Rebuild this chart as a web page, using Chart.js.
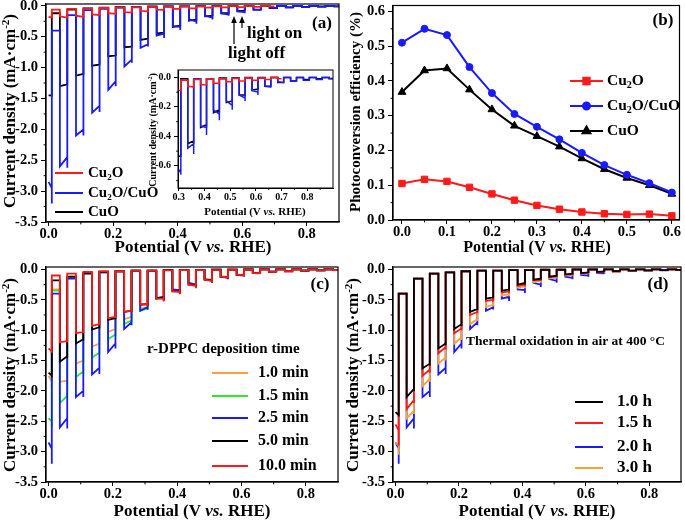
<!DOCTYPE html>
<html>
<head>
<meta charset="utf-8">
<title>Cu2O / CuO photocurrent</title>
<script src="https://cdn.jsdelivr.net/npm/chart.js@4.4.0/dist/chart.umd.min.js"></script>
<style>
  body { margin: 0; background: #fff; }
  #fig { position: relative; width: 685px; height: 522px; overflow: hidden; background: #fff; }
  #fig canvas { position: absolute; }
</style>
</head>
<body>
<div id="fig">
  <canvas id="chart-a" width="345" height="260" style="left:0;top:0"></canvas>
  <canvas id="chart-b" width="340" height="260" style="left:345px;top:0"></canvas>
  <canvas id="chart-c" width="345" height="260" style="left:0;top:262px"></canvas>
  <canvas id="chart-d" width="340" height="260" style="left:345px;top:262px"></canvas>
  <canvas id="chart-inset" width="200" height="165" style="left:140px;top:62px"></canvas>
</div>
<script>
/* ─── chopped-light schedule (V vs. RHE) ─────────────────────────── */
const lightOn  = [0.000, 0.035, 0.085, 0.135, 0.185, 0.235, 0.285, 0.335, 0.385, 0.435, 0.485,
                  0.535, 0.585, 0.635, 0.685, 0.735, 0.785, 0.835, 0.885, 0.935, 0.985];
const lightOff = [0.010, 0.058, 0.108, 0.158, 0.208, 0.258, 0.308, 0.358, 0.408, 0.458, 0.508,
                  0.558, 0.608, 0.658, 0.708, 0.758, 0.808, 0.858, 0.908, 0.958, 1.008];

/* per pulse: [light-on current, end of light, off transient, dark current after]  (mA cm-2) */
const jCu2OCuO = [
  [-2.85, -2.95, -3.20, -0.40], [-2.60, -2.45, -2.62, -0.15], [-2.10, -2.00, -2.10, -0.07],
  [-1.73, -1.62, -1.72, -0.05], [-1.36, -1.22, -1.30, -0.03], [-0.98, -0.87, -0.92, -0.02],
  [-0.68, -0.62, -0.66, -0.02], [-0.48, -0.45, -0.52, -0.01], [-0.33, -0.34, -0.39, -0.01],
  [-0.22, -0.25, -0.29, -0.01], [-0.16, -0.19, -0.22, -0.005], [-0.12, -0.14, -0.16, -0.005],
  [-0.09, -0.10, -0.12, -0.005], [-0.06, -0.065, -0.07, 0], [-0.03, -0.035, -0.04, 0],
  [-0.025, -0.025, -0.03, 0], [-0.02, -0.02, -0.02, 0], [-0.015, -0.015, -0.015, 0],
  [-0.01, -0.01, -0.01, 0], [-0.008, -0.008, -0.008, 0], [-0.005, -0.005, -0.005, 0]
];
const jCuO = [
  [-1.45, -1.45, -1.47, -0.12], [-1.30, -1.27, -1.29, -0.06], [-1.13, -1.10, -1.12, -0.04],
  [-0.97, -0.95, -0.96, -0.03], [-0.82, -0.80, -0.81, -0.02], [-0.67, -0.66, -0.67, -0.02],
  [-0.55, -0.53, -0.54, -0.01], [-0.45, -0.43, -0.45, -0.01], [-0.34, -0.32, -0.34, -0.01],
  [-0.24, -0.22, -0.24, -0.005], [-0.17, -0.16, -0.17, -0.005], [-0.12, -0.12, -0.12, 0],
  [-0.085, -0.08, -0.085, 0], [-0.06, -0.06, -0.06, 0], [-0.035, -0.035, -0.035, 0],
  [-0.025, -0.025, -0.025, 0], [-0.015, -0.015, -0.015, 0], [-0.01, -0.01, -0.01, 0],
  [-0.008, -0.008, -0.008, 0], [-0.005, -0.005, -0.005, 0], [-0.003, -0.003, -0.003, 0]
];
const jCu2O = [
  [-0.18, -0.19, -0.20, -0.06], [-0.17, -0.19, -0.19, -0.05], [-0.16, -0.18, -0.18, -0.04],
  [-0.14, -0.15, -0.16, -0.035], [-0.12, -0.13, -0.13, -0.03], [-0.10, -0.11, -0.11, -0.025],
  [-0.08, -0.09, -0.09, -0.02], [-0.06, -0.065, -0.07, -0.015], [-0.05, -0.05, -0.055, -0.01],
  [-0.04, -0.04, -0.045, -0.01], [-0.03, -0.03, -0.035, -0.008], [-0.025, -0.025, -0.03, -0.005],
  [-0.02, -0.02, -0.02, -0.005], [-0.015, -0.015, -0.015, 0], [-0.01, -0.01, -0.01, 0]
];
const cu2oScanEnd = 0.70;
const scanEnd = 1.05;

/* (c) r-DPPC deposition time; 2.5 min is the Cu2O/CuO scan above */
const jDep10 = [
  [-1.75, -1.85, -1.95, -0.33], [-1.85, -1.83, -1.87, -0.14], [-1.55, -1.50, -1.53, -0.07],
  [-1.27, -1.22, -1.25, -0.05], [-1.03, -0.98, -1.00, -0.03], [-0.82, -0.78, -0.80, -0.02],
  [-0.65, -0.62, -0.64, -0.02], [-0.48, -0.47, -0.50, -0.01], [-0.35, -0.35, -0.38, -0.01],
  [-0.23, -0.25, -0.28, -0.01], [-0.15, -0.17, -0.19, -0.005], [-0.11, -0.12, -0.14, -0.005],
  [-0.08, -0.085, -0.10, 0], [-0.055, -0.06, -0.065, 0], [-0.035, -0.04, -0.04, 0],
  [-0.025, -0.025, -0.03, 0], [-0.018, -0.018, -0.018, 0], [-0.012, -0.012, -0.012, 0],
  [-0.008, -0.008, -0.008, 0], [-0.006, -0.006, -0.006, 0], [-0.004, -0.004, -0.004, 0]
];
const jDep15 = [
  [-2.45, -2.50, -2.60, -0.35], [-2.20, -2.08, -2.12, -0.14], [-1.77, -1.68, -1.72, -0.07],
  [-1.45, -1.37, -1.40, -0.05], [-1.15, -1.07, -1.10, -0.03], [-0.90, -0.84, -0.87, -0.02],
  [-0.68, -0.64, -0.67, -0.02], [-0.49, -0.46, -0.51, -0.01], [-0.34, -0.34, -0.38, -0.01],
  [-0.22, -0.24, -0.28, -0.01], [-0.16, -0.18, -0.21, -0.005], [-0.12, -0.13, -0.15, -0.005],
  [-0.09, -0.095, -0.11, 0], [-0.06, -0.06, -0.07, 0], [-0.035, -0.035, -0.04, 0],
  [-0.025, -0.025, -0.03, 0], [-0.02, -0.02, -0.02, 0], [-0.015, -0.015, -0.015, 0],
  [-0.01, -0.01, -0.01, 0], [-0.007, -0.007, -0.007, 0], [-0.005, -0.005, -0.005, 0]
];
const jDep50 = [
  [-1.70, -1.75, -1.78, -0.18], [-1.52, -1.43, -1.46, -0.12], [-1.22, -1.15, -1.17, -0.06],
  [-0.99, -0.95, -0.97, -0.04], [-0.83, -0.80, -0.82, -0.03], [-0.70, -0.68, -0.70, -0.02],
  [-0.58, -0.57, -0.60, -0.02], [-0.47, -0.46, -0.50, -0.01], [-0.36, -0.36, -0.40, -0.01],
  [-0.25, -0.26, -0.30, -0.01], [-0.17, -0.18, -0.21, -0.005], [-0.12, -0.13, -0.15, -0.005],
  [-0.09, -0.09, -0.11, 0], [-0.06, -0.06, -0.07, 0], [-0.04, -0.04, -0.045, 0],
  [-0.03, -0.03, -0.03, 0], [-0.02, -0.02, -0.02, 0], [-0.015, -0.015, -0.015, 0],
  [-0.01, -0.01, -0.01, 0], [-0.007, -0.007, -0.007, 0], [-0.005, -0.005, -0.005, 0]
];
const jDep100 = [
  [-1.30, -1.35, -1.37, -0.10], [-1.20, -1.18, -1.20, -0.07], [-1.05, -1.03, -1.05, -0.04],
  [-0.93, -0.90, -0.92, -0.03], [-0.80, -0.78, -0.80, -0.03], [-0.70, -0.68, -0.70, -0.02],
  [-0.58, -0.57, -0.60, -0.02], [-0.48, -0.48, -0.53, -0.015], [-0.36, -0.37, -0.41, -0.01],
  [-0.25, -0.27, -0.31, -0.01], [-0.17, -0.19, -0.22, -0.01], [-0.12, -0.13, -0.15, -0.005],
  [-0.09, -0.09, -0.11, -0.005], [-0.06, -0.06, -0.07, 0], [-0.04, -0.04, -0.045, 0],
  [-0.03, -0.03, -0.03, 0], [-0.02, -0.02, -0.02, 0], [-0.015, -0.015, -0.015, 0],
  [-0.01, -0.01, -0.01, 0], [-0.008, -0.008, -0.008, 0], [-0.005, -0.005, -0.005, 0]
];

/* (d) thermal oxidation time; 2.0 h is the Cu2O/CuO scan above */
const jOx10 = [
  [-2.35, -2.40, -2.42, -0.40], [-2.10, -1.97, -2.00, -0.15], [-1.63, -1.55, -1.58, -0.07],
  [-1.30, -1.22, -1.25, -0.05], [-0.98, -0.90, -0.93, -0.03], [-0.70, -0.65, -0.67, -0.02],
  [-0.48, -0.46, -0.48, -0.02], [-0.35, -0.33, -0.35, -0.01], [-0.25, -0.22, -0.25, -0.01],
  [-0.17, -0.15, -0.17, -0.005], [-0.12, -0.10, -0.12, -0.005], [-0.08, -0.07, -0.08, 0],
  [-0.06, -0.05, -0.06, 0], [-0.04, -0.035, -0.04, 0], [-0.03, -0.025, -0.03, 0],
  [-0.02, -0.02, -0.02, 0], [-0.015, -0.015, -0.015, 0], [-0.01, -0.01, -0.01, 0],
  [-0.007, -0.007, -0.007, 0], [-0.005, -0.005, -0.005, 0], [-0.003, -0.003, -0.003, 0]
];
const jOx15 = [
  [-2.55, -2.65, -2.90, -0.40], [-2.30, -2.15, -2.20, -0.15], [-1.75, -1.65, -1.70, -0.07],
  [-1.38, -1.28, -1.32, -0.05], [-1.05, -0.97, -1.00, -0.03], [-0.75, -0.70, -0.72, -0.02],
  [-0.52, -0.50, -0.53, -0.02], [-0.38, -0.36, -0.39, -0.01], [-0.27, -0.25, -0.28, -0.01],
  [-0.18, -0.17, -0.19, -0.005], [-0.13, -0.12, -0.13, -0.005], [-0.09, -0.08, -0.09, 0],
  [-0.06, -0.055, -0.065, 0], [-0.045, -0.04, -0.045, 0], [-0.03, -0.03, -0.03, 0],
  [-0.02, -0.02, -0.02, 0], [-0.015, -0.015, -0.015, 0], [-0.01, -0.01, -0.01, 0],
  [-0.007, -0.007, -0.007, 0], [-0.005, -0.005, -0.005, 0], [-0.003, -0.003, -0.003, 0]
];
const jOx30 = [
  [-2.85, -2.90, -3.05, -0.40], [-2.45, -2.33, -2.38, -0.15], [-1.92, -1.80, -1.85, -0.07],
  [-1.55, -1.45, -1.50, -0.05], [-1.22, -1.12, -1.16, -0.03], [-0.90, -0.82, -0.85, -0.02],
  [-0.62, -0.58, -0.61, -0.02], [-0.43, -0.41, -0.44, -0.01], [-0.30, -0.28, -0.31, -0.01],
  [-0.21, -0.19, -0.22, -0.005], [-0.15, -0.13, -0.15, -0.005], [-0.10, -0.09, -0.10, 0],
  [-0.07, -0.065, -0.07, 0], [-0.05, -0.045, -0.05, 0], [-0.035, -0.035, -0.035, 0],
  [-0.025, -0.025, -0.025, 0], [-0.015, -0.015, -0.015, 0], [-0.01, -0.01, -0.01, 0],
  [-0.008, -0.008, -0.008, 0], [-0.005, -0.005, -0.005, 0], [-0.003, -0.003, -0.003, 0]
];

/* (b) photoconversion efficiency (%) */
const effPotential = [0.00, 0.05, 0.10, 0.15, 0.20, 0.25, 0.30, 0.35, 0.40, 0.45, 0.50, 0.55, 0.60];
const effCu2O      = [0.105, 0.117, 0.111, 0.094, 0.075, 0.057, 0.042, 0.031, 0.023, 0.018, 0.016, 0.017, 0.012];
const effCu2OCuO   = [0.510, 0.550, 0.532, 0.440, 0.365, 0.305, 0.268, 0.232, 0.193, 0.158, 0.130, 0.106, 0.079];
const effCuO       = [0.368, 0.430, 0.436, 0.375, 0.318, 0.271, 0.241, 0.211, 0.177, 0.146, 0.121, 0.100, 0.075];

/* tick labels */
const potTicks   = [0.0, 0.2, 0.4, 0.6, 0.8];
const potMinor   = [0.1, 0.3, 0.5, 0.7];
const jTicks     = [0.0, -0.5, -1.0, -1.5, -2.0, -2.5, -3.0, -3.5];
const jMinor     = [-0.25, -0.75, -1.25, -1.75, -2.25, -2.75, -3.25];
const effTicks   = [0.0, 0.1, 0.2, 0.3, 0.4, 0.5, 0.6];
const effMinor   = [0.05, 0.15, 0.25, 0.35, 0.45, 0.55];
const insetXTicks = [0.3, 0.4, 0.5, 0.6, 0.7, 0.8];
const insetXMinor = [0.35, 0.45, 0.55, 0.65, 0.75, 0.85];
const insetYTicks = [0.0, -0.2, -0.4, -0.6];
const insetYMinor = [-0.1, -0.3, -0.5, -0.7];

const RED = '#ff1a1a', BLUE = '#1a1aff', BLACK = '#000000', ORANGE = '#f7a23a', GREEN = '#2ee82e';
const FONT = '"Liberation Serif", "Times New Roman", serif';
Chart.defaults.font.family = FONT;
Chart.defaults.color = '#000';

/* ─── helpers ────────────────────────────────────────────────────── */
function chopped(pulses, end) {
  const pts = [];
  let dark = null;
  pulses.forEach((p, i) => {
    const on = lightOn[i], off = lightOff[i];
    if (on >= end) return;
    if (dark !== null) pts.push({ x: on, y: dark });
    pts.push({ x: on, y: p[0] });
    if (off >= end) { pts.push({ x: end, y: p[1] }); dark = null; return; }
    pts.push({ x: off, y: p[1] }, { x: off, y: p[2] }, { x: off, y: p[3] });
    dark = p[3];
  });
  if (dark !== null) pts.push({ x: end, y: dark });
  return pts;
}

// text with italic / subscript / superscript runs
function rich(ctx, x, y, parts, size, align) {
  const fontOf = s => (s === 'i' ? 'italic bold ' : 'bold ') +
    (s === 'sub' || s === 'sup' ? Math.round(size * 0.62) : size) + 'px ' + FONT;
  let w = 0;
  parts.forEach(([t, s]) => { ctx.font = fontOf(s); w += ctx.measureText(t).width; });
  let cx = align === 'center' ? x - w / 2 : align === 'right' ? x - w : x;
  ctx.textAlign = 'left';
  ctx.textBaseline = 'middle';
  ctx.fillStyle = '#000';
  parts.forEach(([t, s]) => {
    ctx.font = fontOf(s);
    const dy = s === 'sub' ? size * 0.3 : s === 'sup' ? -size * 0.3 : 0;
    ctx.fillText(t, cx, y + dy);
    cx += ctx.measureText(t).width;
  });
}
function richUp(ctx, x, y, parts, size) {
  ctx.save();
  ctx.translate(x, y);
  ctx.rotate(-Math.PI / 2);
  rich(ctx, 0, 0, parts, size, 'center');
  ctx.restore();
}
function sample(ctx, x1, x2, y, color, lw) {
  ctx.strokeStyle = color;
  ctx.lineWidth = lw;
  ctx.beginPath(); ctx.moveTo(x1, y); ctx.lineTo(x2, y); ctx.stroke();
}
function arrowUp(ctx, x, y1, y2) {
  ctx.strokeStyle = '#000'; ctx.lineWidth = 1.2;
  ctx.beginPath(); ctx.moveTo(x, y1); ctx.lineTo(x, y2 + 5); ctx.stroke();
  ctx.fillStyle = '#000';
  ctx.beginPath(); ctx.moveTo(x, y2); ctx.lineTo(x - 2.8, y2 + 7); ctx.lineTo(x + 2.8, y2 + 7); ctx.closePath(); ctx.fill();
}

const CU2O     = [['Cu'], ['2', 'sub'], ['O']];
const CU2O_CUO = [['Cu'], ['2', 'sub'], ['O/CuO']];
const POT      = [['Potential (V '], ['vs.', 'i'], [' RHE)']];
const JTITLE   = [['Current density (mA\u00B7cm'], ['-2', 'sup'], [')']];

function axes(o) {
  const tickFont = { family: FONT, size: o.tickSize, weight: 'bold' };
  return {
    x: {
      type: 'linear', min: o.xMin, max: o.xMax,
      afterBuildTicks: s => { s.ticks = o.xTicks.map(v => ({ value: v })); },
      afterFit: s => { s.height = o.xH; s.paddingLeft = 0; s.paddingRight = 0; },
      ticks: { autoSkip: false, maxRotation: 0, color: '#000', font: tickFont, padding: 0,
               callback: v => v.toFixed(1) },
      grid: { drawOnChartArea: false, tickLength: o.tl, color: '#000', lineWidth: 1 },
      border: { color: '#000', width: o.lw }
    },
    y: {
      type: 'linear', min: o.yMin, max: o.yMax,
      afterBuildTicks: s => { s.ticks = o.yTicks.map(v => ({ value: v })); },
      afterFit: s => { s.width = o.yW; s.paddingTop = 0; s.paddingBottom = 0; },
      ticks: { autoSkip: false, color: '#000', font: tickFont, padding: 3,
               callback: v => v.toFixed(1) },
      grid: { drawOnChartArea: false, tickLength: o.tl + 1, color: '#000', lineWidth: 1 },
      border: { color: '#000', width: o.lw }
    }
  };
}

function frame(o) {
  return {
    id: 'frame',
    afterDraw(chart) {
      const { ctx, chartArea: a, scales: { x, y } } = chart;
      ctx.save();
      ctx.strokeStyle = '#000';
      ctx.lineWidth = o.lw;
      ctx.strokeRect(a.left, a.top, a.right - a.left, a.bottom - a.top);
      ctx.lineWidth = 1;
      ctx.beginPath();
      o.xMinor.forEach(v => { const p = x.getPixelForValue(v); ctx.moveTo(p, a.bottom); ctx.lineTo(p, a.bottom + o.tl * 0.6); });
      o.yMinor.forEach(v => { const p = y.getPixelForValue(v); ctx.moveTo(a.left, p); ctx.lineTo(a.left - o.tl * 0.6, p); });
      ctx.stroke();
      o.decor(ctx, chart);
      ctx.restore();
    }
  };
}

function makeChart(id, datasets, o) {
  return new Chart(document.getElementById(id), {
    type: 'line',
    data: { datasets },
    options: {
      responsive: false,
      animation: false,
      devicePixelRatio: 1,
      layout: { padding: { left: 0, top: o.top, right: o.right, bottom: 0 } },
      elements: { line: { tension: 0 } },
      plugins: { legend: { display: false }, tooltip: { enabled: false } },
      scales: axes(o)
    },
    plugins: [frame(o)]
  });
}

const scan = (pulses, color, end = scanEnd, lw = 1.8) => ({
  data: chopped(pulses, end), borderColor: color, borderWidth: lw, pointRadius: 0
});

const chopAxes = {
  xMin: -0.008, xMax: 0.9, yMin: -3.5, yMax: 0.04,
  xTicks: potTicks, xMinor: potMinor, yTicks: jTicks, yMinor: jMinor,
  tickSize: 14.5, tl: 4, lw: 1.2
};

/* ─── (a) ───────────────────────────────────────────────────────── */
makeChart('chart-a', [
  scan(jCu2O, RED, cu2oScanEnd),
  scan(jCu2OCuO, BLUE),
  scan(jCuO, BLACK)
], Object.assign({}, chopAxes, {
  yMax: 0.03, xH: 38, yW: 46, top: 4, right: 6,
  decor(ctx) {
    rich(ctx, 322, 24, [['(a)']], 17, 'center');
    rich(ctx, 247, 34, [['light on']], 17, 'left');
    rich(ctx, 228, 54, [['light off']], 17, 'left');
    arrowUp(ctx, 234, 44, 16);
    arrowUp(ctx, 242, 28, 16);
    sample(ctx, 55, 83, 173, RED, 2);
    sample(ctx, 55, 83, 193, BLUE, 2);
    sample(ctx, 55, 83, 212, BLACK, 2);
    rich(ctx, 88, 173, CU2O, 15, 'left');
    rich(ctx, 88, 193, CU2O_CUO, 15, 'left');
    rich(ctx, 88, 212, [['CuO']], 15, 'left');
    rich(ctx, 193, 248, POT, 17, 'center');
    richUp(ctx, 11, 111, JTITLE, 17);
  }
}));

/* inset of (a) */
makeChart('chart-inset', [
  scan(jCu2O, RED, cu2oScanEnd, 1.5),
  scan(jCu2OCuO, BLUE, scanEnd, 1.5),
  scan(jCuO, BLACK, scanEnd, 1.5)
], {
  xMin: 0.297, xMax: 0.9, yMin: -0.75, yMax: 0.05,
  xTicks: insetXTicks, xMinor: insetXMinor, yTicks: insetYTicks, yMinor: insetYMinor,
  tickSize: 10, tl: 3, lw: 1, xH: 39, yW: 38, top: 8, right: 7,
  decor(ctx) {
    rich(ctx, 115, 150, POT, 11, 'center');
    richUp(ctx, 13, 68, JTITLE, 10);
  }
});

/* ─── (b) ───────────────────────────────────────────────────────── */
const effSet = (vals, color, style, r) => ({
  data: effPotential.map((x, i) => ({ x, y: vals[i] })),
  borderColor: color, backgroundColor: color, borderWidth: 2,
  pointStyle: style, pointRadius: r, pointBackgroundColor: color, pointBorderColor: color, pointBorderWidth: 1
});
makeChart('chart-b', [
  effSet(effCu2O, RED, 'rect', 4.5),
  effSet(effCu2OCuO, BLUE, 'circle', 3.5),
  effSet(effCuO, BLACK, 'triangle', 4.5)
], {
  xMin: -0.02, xMax: 0.617, yMin: 0, yMax: 0.617,
  xTicks: effTicks, xMinor: effMinor, yTicks: effTicks, yMinor: effMinor,
  tickSize: 14.5, tl: 4, lw: 1.2, xH: 40, yW: 48, top: 4, right: 3,
  decor(ctx) {
    rich(ctx, 318, 21, [['(b)']], 17, 'center');
    const items = [[CU2O, RED, 'rect', 81], [CU2O_CUO, BLUE, 'circle', 106], [[['CuO']], BLACK, 'triangle', 131]];
    items.forEach(([txt, c, st, y]) => {
      sample(ctx, 225, 258, y, c, 2);
      ctx.fillStyle = c;
      Chart.helpers.drawPoint(ctx, { pointStyle: st, radius: st === 'circle' ? 3.5 : 4.5, borderWidth: 1 }, 241.5, y);
      ctx.fill();
      rich(ctx, 262, y, txt, 15.5, 'left');
    });
    rich(ctx, 192, 248, POT, 16, 'center');
    richUp(ctx, 11, 112, [['Photoconversion efficiency (%)']], 15);
  }
});

/* ─── (c) ───────────────────────────────────────────────────────── */
makeChart('chart-c', [
  scan(jDep100, RED),
  scan(jDep50, BLACK),
  scan(jCu2OCuO, BLUE),
  scan(jDep15, GREEN),
  scan(jDep10, ORANGE)
], Object.assign({}, chopAxes, {
  xH: 40, yW: 46, top: 5, right: 7,
  decor(ctx) {
    rich(ctx, 320, 23, [['(c)']], 17, 'center');
    rich(ctx, 147, 87, [['r-DPPC deposition time']], 15, 'left');
    const items = [['1.0 min', ORANGE, 111], ['1.5 min', GREEN, 134], ['2.5 min', BLUE, 156],
                   ['5.0 min', BLACK, 179], ['10.0 min', RED, 204]];
    items.forEach(([t, c, y]) => {
      sample(ctx, 212, 248, y, c, 2);
      rich(ctx, 258, y, [[t]], 16, 'left');
    });
    rich(ctx, 192, 250, POT, 17, 'center');
    richUp(ctx, 11, 113, JTITLE, 17);
  }
}));

/* ─── (d) ───────────────────────────────────────────────────────── */
makeChart('chart-d', [
  scan(jOx10, BLACK),
  scan(jOx15, RED),
  scan(jOx30, ORANGE),
  scan(jCu2OCuO, BLUE)
], Object.assign({}, chopAxes, {
  xH: 40, yW: 48, top: 5, right: 4,
  decor(ctx) {
    rich(ctx, 313, 23, [['(d)']], 17, 'center');
    rich(ctx, 121, 80, [['Thermal oxidation in air at 400 \u00B0C']], 13.5, 'left');
    const items = [['1.0 h', BLACK, 140], ['1.5 h', RED, 161], ['2.0 h', BLUE, 185], ['3.0 h', ORANGE, 206]];
    items.forEach(([t, c, y]) => {
      sample(ctx, 230, 258, y, c, 2);
      rich(ctx, 272, y, [[t]], 17, 'left');
    });
    rich(ctx, 192, 250, POT, 17, 'center');
    richUp(ctx, 9, 113, JTITLE, 17);
  }
}));
</script>
</body>
</html>
